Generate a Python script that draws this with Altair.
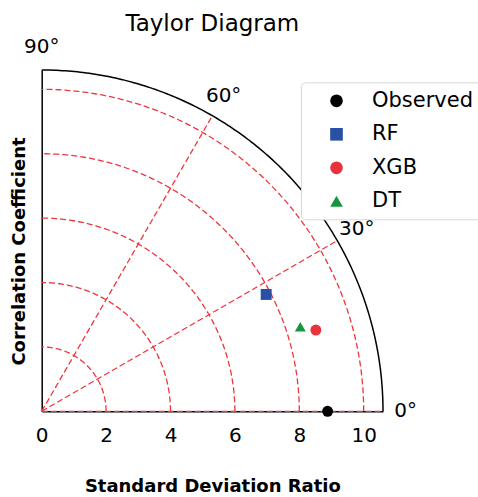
import altair as alt
import numpy as np
import pandas as pd

# ---- data ----
models = ["Observed", "RF", "XGB", "DT"]
std_ratio = [8.88, 7.86, 8.88, 8.45]
angle_deg = [0.0, 27.5, 16.5, 18.1]
colors = ["#000000", "#2a50a5", "#e8323c", "#16963f"]
shapes = ["circle", "square", "circle", "triangle-up"]

grid_radii = [2, 4, 6, 8, 10]
grid_angles = [0, 30, 60]
angle_labels = [0, 30, 60, 90]
x_ticks = [0, 2, 4, 6, 8, 10]
R_MAX = 10.6
R_LABEL = 11.3

FONT = "DejaVu Sans"

# ---- geometry tables built from the lists above ----
sweep = np.arange(0, 90.25, 0.5)
arc_rows = []
for r in grid_radii:
    for i, a in enumerate(sweep):
        arc_rows.append({"r": r, "o": i, "x": r * np.cos(np.radians(a)), "y": r * np.sin(np.radians(a))})
arcs = pd.DataFrame(arc_rows)

outer = pd.DataFrame({"o": range(len(sweep)),
                      "x": R_MAX * np.cos(np.radians(sweep)),
                      "y": R_MAX * np.sin(np.radians(sweep))})

ray_rows = []
for a in grid_angles:
    ray_rows.append({"a": a, "o": 0, "x": 0.0, "y": 0.0})
    ray_rows.append({"a": a, "o": 1, "x": R_MAX * np.cos(np.radians(a)), "y": R_MAX * np.sin(np.radians(a))})
rays = pd.DataFrame(ray_rows)

labels = pd.DataFrame({"a": angle_labels, "txt": [f"{a}°" for a in angle_labels]})
points = pd.DataFrame({"model": models, "r": std_ratio, "a": angle_deg})

# ---- shared encodings ----
xs = alt.Scale(domain=[0, R_MAX], nice=False, zero=True)
ys = alt.Scale(domain=[0, R_MAX], nice=False, zero=True)
X = alt.X("x:Q", scale=xs, axis=alt.Axis(
    values=x_ticks, grid=False, ticks=False, domainColor="black", domainWidth=1.5,
    labelFont=FONT, labelFontSize=20, labelColor="black", labelPadding=14, labelFlush=False,
    title="Standard Deviation Ratio", titleFont=FONT, titleFontSize=18,
    titleFontWeight="bold", titleColor="black", titleBaseline="alphabetic", titleY=80))
Y = alt.Y("y:Q", scale=ys, axis=alt.Axis(
    values=[], grid=False, ticks=False, labels=False, domainColor="black", domainWidth=1.5,
    title="Correlation Coefficient", titleFont=FONT, titleFontSize=18,
    titleFontWeight="bold", titleColor="black", titleAngle=-90,
    titleBaseline="alphabetic", titleX=-17, titleY=181))

grid_arcs = alt.Chart(arcs).mark_line(color="#f0353c", strokeWidth=1.3, strokeDash=[6, 3]).encode(
    x=X, y=Y, detail="r:N", order="o:Q")
grid_rays = alt.Chart(rays).mark_line(color="#f0353c", strokeWidth=1.3, strokeDash=[6, 3]).encode(
    x=X, y=Y, detail="a:N", order="o:Q")
outer_arc = alt.Chart(outer).mark_line(color="black", strokeWidth=1.5).encode(
    x=X, y=Y, order="o:Q")

angle_text = alt.Chart(labels).transform_calculate(
    x=f"{R_LABEL}*cos(datum.a*PI/180)", y=f"{R_LABEL}*sin(datum.a*PI/180)"
).mark_text(font=FONT, fontSize=20, color="black", align="center", baseline="middle").encode(
    x=X, y=Y, text="txt:N")

pts = alt.Chart(points).transform_calculate(
    x="datum.r*cos(datum.a*PI/180)", y="datum.r*sin(datum.a*PI/180)"
).mark_point(filled=True, size=120, opacity=1).encode(
    x=X, y=Y,
    color=alt.Color("model:N", scale=alt.Scale(domain=models, range=colors), sort=models,
                    legend=alt.Legend(title=None)),
    shape=alt.Shape("model:N", scale=alt.Scale(domain=models, range=shapes), sort=models,
                    legend=alt.Legend(title=None)),
)

chart = alt.layer(grid_arcs, grid_rays, outer_arc, angle_text, pts).properties(
    width=341.3, height=341.3,
    background="white",
    title=alt.TitleParams("Taylor Diagram", font=FONT, fontSize=23, fontWeight="normal",
                          color="black", anchor="middle", dy=3),
    autosize=alt.AutoSizeParams(type="none"),
    padding={"left": 41.7, "top": 70, "right": 95, "bottom": 86},
).configure_view(stroke=None).configure_legend(
    orient="none", legendX=259.3, legendY=12.3, fillColor="white", strokeColor="#d9d9d9",
    cornerRadius=4, padding=8, labelFont=FONT, labelFontSize=21, labelColor="black",
    symbolSize=160, rowPadding=11.5, symbolOffset=17, labelOffset=25, symbolStrokeWidth=0,
)

chart.save("out.html", embed_options={"renderer": "svg", "actions": False})
